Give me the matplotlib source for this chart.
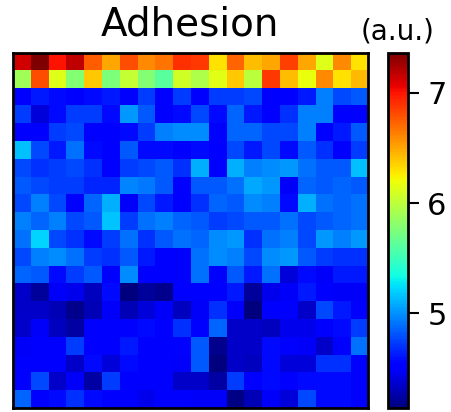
import numpy as np
import matplotlib
matplotlib.use("Agg")
import matplotlib.pyplot as plt

# adhesion map, 20 x 20 pixels, top row first
row00 = [7.13, 7.36, 7.00, 7.18, 6.75, 6.50, 6.80, 6.60, 6.68, 6.90, 6.88, 6.30, 6.72, 6.42, 6.50, 6.85, 6.50, 6.13, 6.60, 6.30]
row01 = [5.90, 6.80, 6.13, 5.78, 6.38, 5.75, 6.03, 5.78, 5.62, 6.08, 5.95, 6.14, 6.38, 6.00, 6.88, 6.42, 6.18, 6.60, 6.30, 6.44]
row02 = [4.50, 4.62, 4.58, 4.54, 4.58, 4.62, 4.54, 4.74, 4.54, 4.74, 4.54, 4.74, 4.74, 4.78, 4.54, 4.54, 4.62, 4.95, 4.78, 4.82]
row03 = [4.74, 4.40, 4.58, 4.74, 4.74, 4.58, 5.03, 4.82, 4.54, 4.58, 4.78, 4.58, 4.86, 4.62, 4.54, 4.70, 4.95, 4.95, 4.54, 4.54]
row04 = [4.54, 4.52, 4.74, 4.78, 4.54, 4.54, 4.58, 4.74, 4.95, 4.99, 4.99, 4.54, 4.86, 4.86, 4.78, 4.78, 4.95, 4.54, 4.62, 4.82]
row05 = [5.15, 4.78, 4.62, 4.90, 4.58, 4.54, 4.82, 4.58, 4.58, 4.54, 4.58, 4.54, 4.78, 4.62, 4.78, 4.58, 4.82, 4.70, 4.54, 4.74]
row06 = [4.78, 4.70, 4.74, 4.78, 4.70, 4.54, 4.74, 4.78, 4.82, 4.70, 5.10, 4.54, 5.10, 4.95, 4.99, 5.03, 4.90, 4.82, 4.82, 5.15]
row07 = [4.82, 4.78, 4.74, 4.74, 4.66, 4.66, 4.97, 4.92, 4.82, 4.52, 4.82, 4.82, 4.90, 5.08, 5.03, 4.48, 4.86, 4.82, 4.86, 4.82]
row08 = [4.78, 4.95, 4.78, 4.52, 4.86, 5.10, 4.48, 4.78, 4.62, 4.52, 4.70, 4.86, 4.82, 4.99, 4.95, 4.58, 5.10, 4.90, 4.86, 4.90]
row09 = [4.95, 4.86, 4.95, 4.78, 4.82, 5.17, 4.74, 4.90, 4.95, 4.86, 4.82, 4.74, 4.78, 4.82, 4.82, 4.90, 4.78, 4.82, 4.86, 4.90]
row10 = [4.90, 5.22, 4.78, 4.70, 4.58, 4.74, 4.90, 4.70, 4.82, 4.90, 4.86, 4.99, 5.03, 4.70, 4.90, 4.95, 4.78, 5.03, 4.95, 5.03]
row11 = [4.78, 4.95, 4.99, 4.90, 4.74, 4.70, 4.82, 4.62, 4.54, 4.54, 4.90, 4.99, 4.95, 4.78, 4.99, 5.03, 4.82, 4.74, 4.70, 4.70]
row12 = [4.86, 4.82, 4.58, 4.74, 4.82, 4.54, 4.99, 4.50, 4.50, 4.50, 4.90, 4.54, 4.82, 4.62, 4.90, 4.40, 4.58, 4.48, 4.62, 4.62]
row13 = [4.35, 4.22, 4.48, 4.45, 4.32, 4.58, 4.15, 4.22, 4.18, 4.50, 4.50, 4.54, 4.62, 4.22, 4.45, 4.48, 4.62, 4.55, 4.48, 4.48]
row14 = [4.35, 4.35, 4.30, 4.18, 4.30, 4.48, 4.30, 4.40, 4.48, 4.32, 4.48, 4.70, 4.48, 4.15, 4.52, 4.50, 4.35, 4.78, 4.62, 4.52]
row15 = [4.35, 4.48, 4.32, 4.25, 4.50, 4.50, 4.50, 4.58, 4.52, 4.70, 4.50, 4.86, 4.35, 4.35, 4.32, 4.45, 4.45, 4.50, 4.58, 4.74]
row16 = [4.48, 4.52, 4.52, 4.74, 4.52, 4.50, 4.62, 4.52, 4.52, 4.52, 4.82, 4.18, 4.35, 4.35, 4.58, 4.52, 4.48, 4.35, 4.52, 4.90]
row17 = [4.52, 4.52, 4.52, 4.35, 4.58, 4.40, 4.58, 4.52, 4.52, 4.48, 4.82, 4.14, 4.35, 4.32, 4.58, 4.40, 4.40, 4.70, 4.70, 4.52]
row18 = [4.52, 4.78, 4.35, 4.48, 4.25, 4.74, 4.52, 4.52, 4.52, 4.35, 4.35, 4.25, 4.74, 4.52, 4.58, 4.52, 4.58, 4.58, 4.58, 4.52]
row19 = [4.86, 4.52, 4.58, 4.70, 4.58, 4.52, 4.52, 4.45, 4.52, 4.52, 4.48, 4.48, 4.16, 4.30, 4.48, 4.40, 4.78, 4.58, 4.58, 4.52]

cbar_ticks = [5, 6, 7]
vmin, vmax = 4.14, 7.36

adhesion = np.array([row00, row01, row02, row03, row04, row05, row06, row07, row08, row09,
                     row10, row11, row12, row13, row14, row15, row16, row17, row18, row19])

fig = plt.figure(figsize=(4.51, 4.12), dpi=100)
ax = fig.add_axes([0.028, 0.009, 0.788, 0.8617])
cax = fig.add_axes([0.860, 0.009, 0.0443, 0.8617])

im = ax.imshow(adhesion, cmap='jet', vmin=vmin, vmax=vmax,
               interpolation='nearest', aspect='auto')
ax.set_xticks([])
ax.set_yticks([])
for spine in ax.spines.values():
    spine.set_linewidth(2)
ax.set_title("Adhesion", fontsize=28, pad=13)

cbar = fig.colorbar(im, cax=cax, ticks=cbar_ticks)
cbar.outline.set_linewidth(2)
cax.tick_params(labelsize=22, length=8, width=1.5, pad=6)
cax.set_title("(a.u.)", fontsize=20, pad=10)

fig.savefig("out.png", dpi=100)
